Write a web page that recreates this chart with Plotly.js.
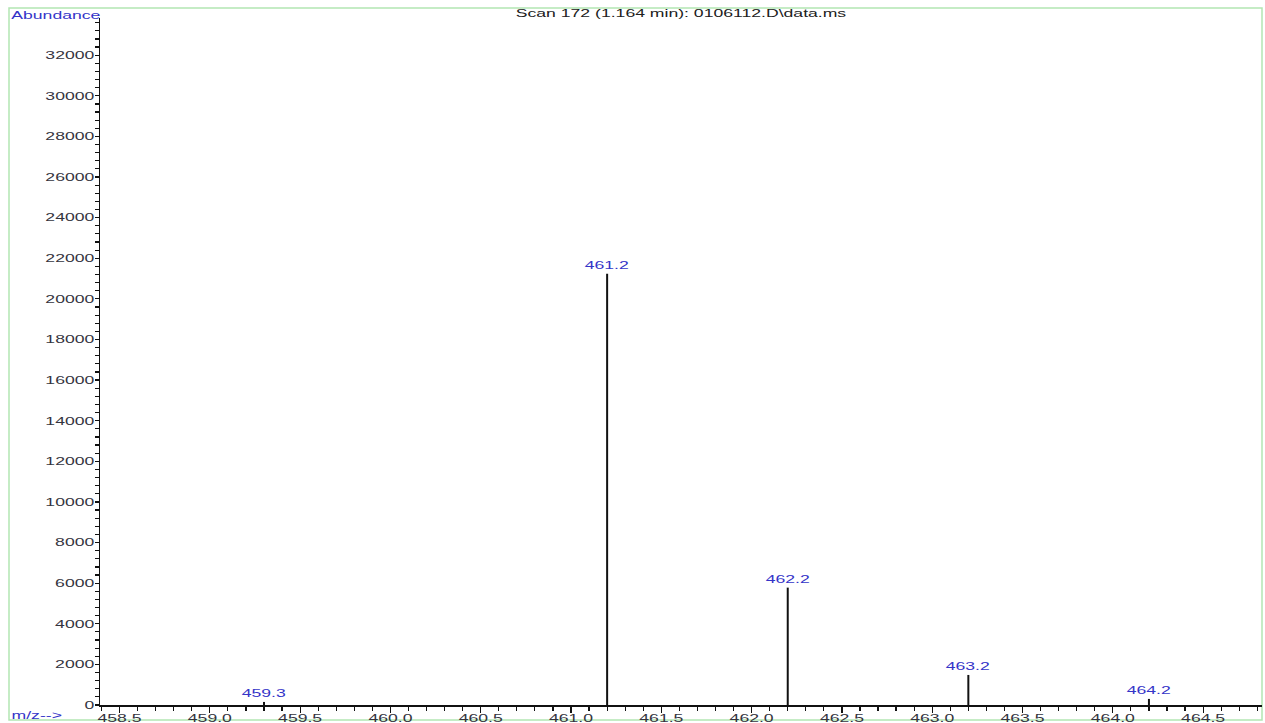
<!DOCTYPE html>
<html>
<head>
<meta charset="utf-8">
<script src="https://cdn.plot.ly/plotly-3.0.1.min.js"></script>
<style>
  html, body { margin: 0; padding: 0; background: #ffffff; }
  #chart { width: 1265px; height: 723px; }
</style>
</head>
<body>
<div id="chart"></div>
<script>
// Mass spectrum, scan 172
const mzValues = [459.3, 461.2, 462.2, 463.2, 464.2];
const abundances = [150, 21240, 5780, 1480, 300];
const peakLabels = ['459.3', '461.2', '462.2', '463.2', '464.2'];

const xTickValues = [458.5, 459.0, 459.5, 460.0, 460.5, 461.0, 461.5, 462.0, 462.5, 463.0, 463.5, 464.0, 464.5];
const xTickLabels = ['458.5', '459.0', '459.5', '460.0', '460.5', '461.0', '461.5', '462.0', '462.5', '463.0', '463.5', '464.0', '464.5'];

const titleText = 'Scan 172 (1.164 min): 0106112.D\\data.ms';

// Build vertical stems: each peak is a segment from 0 up to its abundance
const stemX = [], stemY = [];
mzValues.forEach((m, i) => {
  stemX.push(m, m, null);
  stemY.push(0, abundances[i], null);
});

const labelColor = '#3434c8';
const tickColor = '#34343e';
const fontFamily = '"Liberation Sans", Arial, sans-serif';

const traces = [{
  type: 'scatter',
  mode: 'lines',
  x: stemX,
  y: stemY,
  line: { color: '#111111', width: 2 },
  hoverinfo: 'skip',
  showlegend: false
}];

const annotations = mzValues.map((m, i) => ({
  x: m, y: abundances[i], xref: 'x', yref: 'y',
  text: peakLabels[i], showarrow: false,
  yanchor: 'bottom', yshift: 1,
  font: { family: fontFamily, size: 11, color: labelColor }
}));

annotations.push({
  text: 'Abundance', xref: 'paper', yref: 'paper',
  x: (56 - 100) / 1162, y: (705 - 17) / 685,
  xanchor: 'center', yanchor: 'middle', showarrow: false,
  font: { family: fontFamily, size: 11, color: labelColor }
});
annotations.push({
  text: 'm/z-->', xref: 'paper', yref: 'paper',
  x: (36 - 100) / 1162, y: (705 - 715) / 685,
  xanchor: 'center', yanchor: 'middle', showarrow: false,
  font: { family: fontFamily, size: 11, color: labelColor }
});

const layout = {
  width: 1265, height: 723,
  margin: { l: 100, r: 3, t: 18, b: 18, pad: 0 },
  paper_bgcolor: '#ffffff', plot_bgcolor: '#ffffff',
  title: {
    text: titleText,
    x: 0.5, xref: 'paper', xanchor: 'center',
    y: 1 - 13 / 723, yref: 'container', yanchor: 'middle',
    font: { family: fontFamily, size: 11, color: '#202020' }
  },
  xaxis: {
    range: [458.392, 464.826],
    tickmode: 'array', tickvals: xTickValues, ticktext: xTickLabels,
    ticks: 'outside', ticklen: 6, tickwidth: 1.2, tickcolor: '#111111',
    minor: { dtick: 0.1, ticks: 'outside', ticklen: 4, tickwidth: 1.2, tickcolor: '#111111', showgrid: false },
    showline: true, linecolor: '#111111', linewidth: 1.5,
    showgrid: false, zeroline: false,
    tickfont: { family: fontFamily, size: 11, color: tickColor },
    ticklabelstandoff: -4,
    automargin: false, fixedrange: true
  },
  yaxis: {
    range: [0, 33830],
    tickmode: 'linear', tick0: 0, dtick: 2000,
    tickformat: 'd',
    ticks: 'outside', ticklen: 4, tickwidth: 1.2, tickcolor: '#111111',
    minor: { dtick: 400, ticks: 'outside', ticklen: 4, tickwidth: 1.2, tickcolor: '#111111', showgrid: false },
    showline: true, linecolor: '#111111', linewidth: 1.5,
    showgrid: false, zeroline: false,
    tickfont: { family: fontFamily, size: 11, color: tickColor },
    ticklabelstandoff: -2,
    automargin: false, fixedrange: true
  },
  annotations: annotations,
  shapes: [{
    type: 'rect', xref: 'paper', yref: 'paper',
    x0: (9 - 100) / 1162, x1: (1262 - 100) / 1162,
    y0: (705 - 720) / 685, y1: (705 - 10) / 685,
    line: { color: '#b2e6b2', width: 1.5 }, fillcolor: 'rgba(0,0,0,0)',
    layer: 'below'
  }],
  showlegend: false,
  hovermode: false
};

// Widen the glyphs of every label horizontally (wide screen font look)
function widenText(gd, factor) {
  gd.querySelectorAll('svg text').forEach(t => {
    const w = t.getComputedTextLength();
    if (w > 0) {
      t.setAttribute('textLength', (w * factor).toFixed(2));
      t.setAttribute('lengthAdjust', 'spacingAndGlyphs');
    }
  });
}

const gd = document.getElementById('chart');
Plotly.newPlot(gd, traces, layout, { staticPlot: true, displayModeBar: false })
  .then(() => widenText(gd, 1.6));
</script>
</body>
</html>
